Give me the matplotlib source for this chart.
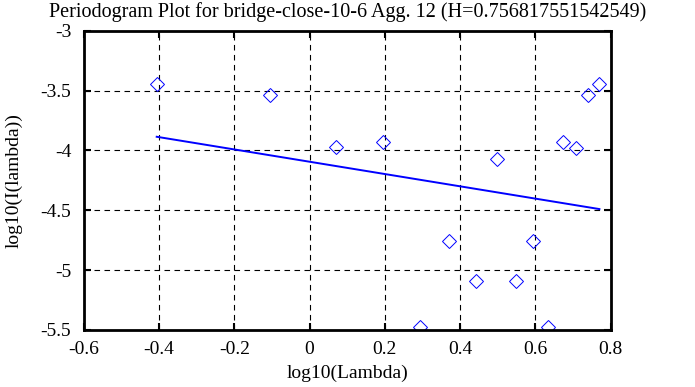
import matplotlib
matplotlib.use('Agg')
import matplotlib.pyplot as plt

# periodogram points (log10 lambda, log10 I(lambda))
log_lambda = [-0.406, -0.105, 0.070, 0.196, 0.293, 0.371, 0.441, 0.497,
              0.549, 0.594, 0.634, 0.673, 0.709, 0.741, 0.770]
log_I = [-3.445, -3.537, -3.974, -3.932, -5.473, -4.760, -5.094, -4.072,
         -5.094, -4.760, -5.473, -3.930, -3.977, -3.540, -3.445]

# least squares fit line endpoints
fit_x = [-0.406, 0.770]
fit_y = [-3.886, -4.490]

xticks = [-0.6, -0.4, -0.2, 0, 0.2, 0.4, 0.6, 0.8]
xlabels = ['-0.6', '-0.4', '-0.2', '0', '0.2', '0.4', '0.6', '0.8']
yticks = [-3, -3.5, -4, -4.5, -5, -5.5]
ylabels = ['-3', '-3.5', '-4', '-4.5', '-5', '-5.5']

plt.rcParams['font.family'] = 'Liberation Serif'
plt.rcParams['font.size'] = 14

fig = plt.figure(figsize=(6.95, 3.87), dpi=100)
ax = fig.add_axes([0.1204, 0.1473, 0.7583, 0.7734])

ax.plot(log_lambda, log_I, 'D', markersize=7.1, markerfacecolor='none',
        markeredgecolor='blue', markeredgewidth=0.7)
ax.plot(fit_x, fit_y, '-', color='blue', linewidth=1.4)

ax.set_xlim(-0.6, 0.8)
ax.set_ylim(-5.5, -3)
ax.set_xticks(xticks)
ax.set_xticklabels(xlabels)
ax.set_yticks(yticks)
ax.set_yticklabels(ylabels)
ax.grid(True, color='black', linestyle=(0, (5, 4)), linewidth=0.8)
ax.tick_params(direction='in', length=5, width=1.5, top=True, right=True)
ax.tick_params(axis='x', pad=8)
ax.tick_params(axis='y', pad=9)
for s in ax.spines.values():
    s.set_linewidth(2)

ax.set_title('Periodogram Plot for bridge-close-10-6 Agg. 12 (H=0.756817551542549)',
             fontsize=14.5, pad=10)
ax.set_xlabel('log10(Lambda)', labelpad=5)
ax.set_ylabel('log10(I(lambda))', labelpad=13)

plt.savefig('out.png')
